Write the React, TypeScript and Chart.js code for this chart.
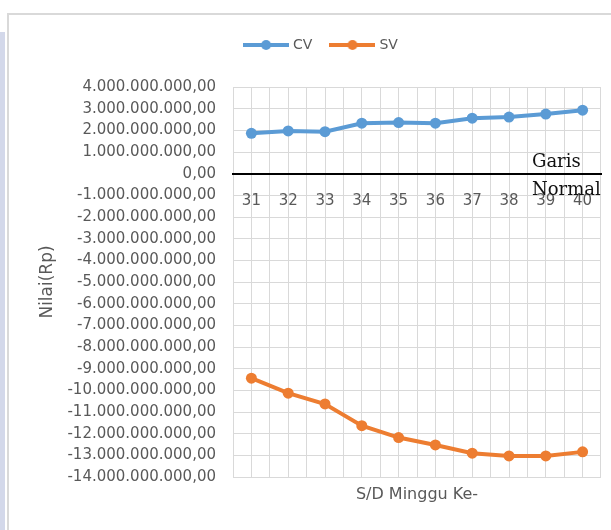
import React, { useEffect, useRef } from "react";
import { Chart, registerables } from "chart.js";

Chart.register(...registerables);

const weeks = ["31", "32", "33", "34", "35", "36", "37", "38", "39", "40"];
const cvValues = [1860000000, 1970000000, 1940000000, 2330000000, 2360000000, 2330000000, 2560000000, 2610000000, 2750000000, 2930000000];
const svValues = [-9440000000, -10130000000, -10630000000, -11630000000, -12180000000, -12520000000, -12900000000, -13030000000, -13030000000, -12840000000];
const yMin = -14000000000;
const yMax = 4000000000;
const yStep = 1000000000;
const seriesNames = ["CV", "SV"];
const seriesColors = ["#5b9bd5", "#ed7d31"];
const yTitle = "Nilai(Rp)";
const xTitle = "S/D Minggu Ke-";
const noteLines = ["Garis", "Normal"];

const SANS = "'DejaVu Sans', sans-serif";
const GRAY = "#595959";
const GRID = "#d9d9d9";

function fmt(v: number): string {
  const neg = v < 0;
  const s = Math.round(Math.abs(v)).toString().replace(/\B(?=(\d{3})+(?!\d))/g, ".");
  return (neg ? "-" : "") + s + ",00";
}

function legendIcon(color: string): HTMLCanvasElement {
  const c = document.createElement("canvas");
  c.width = 46;
  c.height = 12;
  const ctx = c.getContext("2d")!;
  ctx.strokeStyle = color;
  ctx.lineWidth = 4;
  ctx.beginPath();
  ctx.moveTo(0, 6);
  ctx.lineTo(46, 6);
  ctx.stroke();
  ctx.fillStyle = color;
  ctx.beginPath();
  ctx.arc(23, 6, 5, 0, Math.PI * 2);
  ctx.fill();
  return c;
}

const legendSpacer = {
  id: "legendSpacer",
  beforeLayout(chart: any) {
    const lg = chart.legend;
    if (lg && !lg._spaced) {
      const f = lg.fit;
      lg.fit = function () {
        f.call(this);
        this.height += 25;
      };
      lg._spaced = true;
    }
  },
};

const notePlugin = {
  id: "garisNormal",
  afterDraw(chart: any) {
    const { ctx, chartArea } = chart;
    const y0 = chart.scales.y.getPixelForValue(0);
    ctx.save();
    ctx.fillStyle = "#111";
    ctx.font = "18px 'DejaVu Serif', 'Liberation Serif', serif";
    ctx.textAlign = "left";
    ctx.textBaseline = "alphabetic";
    const x = chartArea.right - 69;
    ctx.fillText(noteLines[0], x, y0 - 7);
    ctx.fillText(noteLines[1], x, y0 + 21);
    ctx.restore();
  },
};

export default function App() {
  const ref = useRef<HTMLCanvasElement>(null);
  useEffect(() => {
    if (!ref.current) return;
    const icons = seriesColors.map(legendIcon);
    const chart = new Chart(ref.current, {
      type: "line",
      data: {
        labels: weeks,
        datasets: [
          {
            label: seriesNames[0],
            data: cvValues,
            borderColor: seriesColors[0],
            backgroundColor: seriesColors[0],
            borderWidth: 4,
            pointRadius: 5.5,
            pointBorderWidth: 0,
            tension: 0,
            xAxisID: "x",
          },
          {
            label: seriesNames[1],
            data: svValues,
            borderColor: seriesColors[1],
            backgroundColor: seriesColors[1],
            borderWidth: 4,
            pointRadius: 5.5,
            pointBorderWidth: 0,
            tension: 0,
            xAxisID: "x",
          },
        ],
      },
      options: {
        animation: false,
        responsive: false,
        maintainAspectRatio: false,
        layout: { padding: { left: 43, right: 10, top: 18, bottom: 0 } },
        plugins: {
          legend: {
            position: "top",
            labels: {
              usePointStyle: true,
              pointStyleWidth: 40,
              padding: 20,
              color: GRAY,
              font: { family: SANS, size: 14 },
              generateLabels: (ch: any) =>
                ch.data.datasets.map((ds: any, i: number) => ({
                  text: ds.label,
                  pointStyle: icons[i],
                  fillStyle: seriesColors[i],
                  strokeStyle: seriesColors[i],
                  lineWidth: 0,
                  hidden: false,
                  datasetIndex: i,
                  fontColor: GRAY,
                })),
            },
          },
          title: { display: false },
          tooltip: { enabled: false },
        },
        scales: {
          x: {
            type: "category",
            offset: true,
            position: { y: 0 },
            grid: { offset: true, color: GRID, lineWidth: 1, drawTicks: false },
            border: { display: true, color: "#000", width: 2, z: 1 },
            ticks: { color: GRAY, font: { family: SANS, size: 15 }, padding: 18, maxRotation: 0, autoSkip: false },
          },
          x2: {
            type: "category",
            labels: weeks,
            offset: true,
            position: "bottom",
            grid: { offset: false, color: GRID, lineWidth: 1, drawTicks: false },
            border: { display: false },
            ticks: { display: false },
            title: {
              display: true,
              text: xTitle,
              color: GRAY,
              font: { family: SANS, size: 16 },
              padding: { top: 8.4, bottom: 25.4 },
            },
          },
          y: {
            type: "linear",
            min: yMin,
            max: yMax,
            afterFit: (s: any) => {
              s.width = 190;
            },
            grid: {
              color: (c: any) => (c.tick && c.tick.value === 0 ? "#000" : GRID),
              lineWidth: (c: any) => (c.tick && c.tick.value === 0 ? 2 : 1),
              drawTicks: false,
            },
            border: { display: true, color: GRID, width: 1 },
            ticks: {
              stepSize: yStep,
              autoSkip: false,
              color: GRAY,
              padding: 17,
              font: { family: SANS, size: 15 },
              callback: (v: any) => fmt(Number(v)),
            },
            title: {
              display: true,
              text: yTitle,
              color: GRAY,
              font: { family: SANS, size: 17, lineHeight: 1 },
              padding: { top: -3.5, bottom: 0 },
            },
          },
        },
      } as any,
      plugins: [legendSpacer, notePlugin],
    });
    return () => chart.destroy();
  }, []);

  return (
    <div style={{ position: "absolute", left: 0, top: 0, width: 611, height: 530, background: "#fff", overflow: "hidden" }}>
      <div style={{ position: "absolute", left: 0, top: 32, width: 5, height: 498, background: "#d3d8ea" }} />
      <div
        style={{
          position: "absolute",
          left: 7,
          top: 13,
          width: 620,
          height: 540,
          borderLeft: "2px solid #d9d9d9",
          borderTop: "2px solid #d9d9d9",
        }}
      />
      <canvas ref={ref} width={611} height={530} style={{ position: "absolute", left: 0, top: 0 }} />
    </div>
  );
}
